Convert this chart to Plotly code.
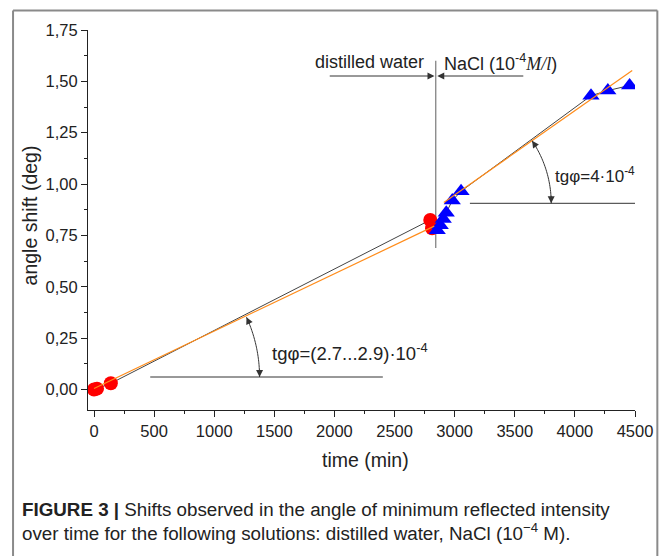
import numpy as np
import plotly.graph_objects as go

# ---- data ----
red_t = [0, 25, 140, 2797, 2812]
red_y = [0.0, 0.004, 0.03, 0.825, 0.785]
blue_t = [2855, 2880, 2905, 2930, 2980, 3053, 4134, 4274, 4455]
blue_y = [0.775, 0.80, 0.83, 0.86, 0.92, 0.965, 1.43, 1.455, 1.48]
fit1_t = [0, 2830]
fit1_y = [0.005, 0.795]
fit2_t = [2910, 4477]
fit2_y = [0.91, 1.553]
y_ticks = [0, 0.25, 0.5, 0.75, 1.0, 1.25, 1.5, 1.75]
y_ticktext = ["0,00", "0,25", "0,50", "0,75", "1,00", "1,25", "1,50", "1,75"]
x_ticks = [0, 500, 1000, 1500, 2000, 2500, 3000, 3500, 4000, 4500]

# ---- layout geometry ----
W, H = 665, 556
ML, MR, MT, MB = 88, 26, 30, 146
PW, PH = W - ML - MR, H - MT - MB
XR = [-50, 4500]
YR = [-0.1, 1.75]
sx = PW / (XR[1] - XR[0])
sy = PH / (YR[1] - YR[0])

def px2d(px, py):
    return XR[0] + (px - ML) / sx, YR[0] + (MT + PH - py) / sy

def pxpaper(px, py):
    return (px - ML) / PW, (MT + PH - py) / PH

ink = "#222222"
fnt = "Liberation Sans, Arial, sans-serif"

fig = go.Figure()
fig.add_trace(go.Scatter(x=red_t, y=red_y, mode="lines+markers",
                         line=dict(color="#444444", width=1),
                         marker=dict(symbol="circle", size=14, color="#ff0000"),
                         showlegend=False))
fig.add_trace(go.Scatter(x=blue_t, y=blue_y, mode="lines+markers",
                         line=dict(color="#444444", width=1),
                         marker=dict(symbol="triangle-up", size=15, color="#0000ff"),
                         showlegend=False))
fig.add_trace(go.Scatter(x=fit1_t, y=fit1_y, mode="lines",
                         line=dict(color="#ff8c1a", width=1.2), showlegend=False))
fig.add_trace(go.Scatter(x=fit2_t, y=fit2_y, mode="lines",
                         line=dict(color="#ff8c1a", width=1.2), showlegend=False))

shapes = []
annotations = []

# vertical separator
vx, _ = px2d(438.3, 0)
_, vy0 = px2d(0, 248)
_, vy1 = px2d(0, 60.7)
shapes.append(dict(type="line", xref="x", yref="y", x0=vx, x1=vx, y0=vy0, y1=vy1,
                   line=dict(color="#7a7a7a", width=1.2), layer="below"))

# dimension arrows at top
_, ay_top = px2d(0, 76)
xl, _ = px2d(330, 0)
xr, _ = px2d(528, 0)
tipL, _ = px2d(437, 0)
tipR, _ = px2d(439.8, 0)
for tip, tail in [(tipL, xl), (tipR, xr)]:
    annotations.append(dict(x=tip, y=ay_top, ax=tail, ay=ay_top, xref="x", yref="y",
                            axref="x", ayref="y", text="", showarrow=True,
                            arrowhead=2, arrowsize=1.4, arrowwidth=1,
                            arrowcolor="#333333", standoff=0, startstandoff=0))

# horizontal reference lines
def hline(px0, px1, py):
    x0, y0 = px2d(px0, py)
    x1, _ = px2d(px1, py)
    shapes.append(dict(type="line", xref="x", yref="y", x0=x0, x1=x1, y0=y0, y1=y0,
                       line=dict(color="#333333", width=1)))

hline(150.7, 385, 377)
hline(472.7, 641.7, 203.3)

# angle arcs
def arc(cx, cy, r, a1):
    th = np.linspace(0, a1, 40)
    pts = [px2d(cx + r * np.cos(t), cy - r * np.sin(t)) for t in th]
    path = "M " + " L ".join(f"{x:.3f},{y:.5f}" for x, y in pts)
    shapes.append(dict(type="path", xref="x", yref="y", path=path,
                       line=dict(color="#333333", width=1)))
    bx, by = px2d(cx + r, cy)
    annotations.append(dict(x=bx, y=by, ax=0, ay=-9, xref="x", yref="y", text="",
                            showarrow=True, arrowhead=2, arrowsize=1.4, arrowwidth=1,
                            arrowcolor="#333333", standoff=0))
    ex, ey = px2d(cx + r * np.cos(a1), cy - r * np.sin(a1))
    annotations.append(dict(x=ex, y=ey, ax=9 * np.sin(a1), ay=9 * np.cos(a1),
                            xref="x", yref="y", text="", showarrow=True, arrowhead=2,
                            arrowsize=1.4, arrowwidth=1, arrowcolor="#333333", standoff=0))

arc(118.3, 377, 142.5, np.radians(24.8))
arc(443.6, 203.3, 111, np.radians(34.3))

# texts in the plot
def txt(px, py, s, anchor="left", size=15):
    x, y = px2d(px, py)
    annotations.append(dict(x=x, y=y, xref="x", yref="y", text=s, showarrow=False,
                            xanchor=anchor, yanchor="middle",
                            font=dict(family=fnt, size=size, color=ink)))

txt(428, 62, "distilled water", "right", 18)
txt(445, 62, "NaCl (10<sup>-4</sup><span style='font-family:Liberation Serif, serif'><i>M/l</i></span>)", "left", 18)
txt(271, 352, "tgφ=(2.7...2.9)·10<sup>-4</sup>", "left", 18.5)
txt(556, 175, "tgφ=4·10<sup>-4</sup>", "left", 17)

# axis titles
px_, py_ = pxpaper(30, 215)
annotations.append(dict(x=px_, y=py_, xref="paper", yref="paper", text="angle shift (deg)",
                        textangle=-90, showarrow=False, xanchor="center", yanchor="middle",
                        font=dict(family=fnt, size=19.5, color=ink)))
px_, py_ = pxpaper(368, 460)
annotations.append(dict(x=px_, y=py_, xref="paper", yref="paper", text="time (min)",
                        showarrow=False, xanchor="center", yanchor="middle",
                        font=dict(family=fnt, size=19.5, color=ink)))

# caption
px_, py_ = pxpaper(20, 509)
annotations.append(dict(x=px_, y=py_, xref="paper", yref="paper",
                        text="<b>FIGURE 3 |</b> Shifts observed in the angle of minimum reflected intensity",
                        showarrow=False, xanchor="left", yanchor="middle",
                        font=dict(family=fnt, size=18.8, color=ink)))
px_, py_ = pxpaper(20, 532)
annotations.append(dict(x=px_, y=py_, xref="paper", yref="paper",
                        text="over time for the following solutions: distilled water, NaCl (10<sup>−4</sup> M).",
                        showarrow=False, xanchor="left", yanchor="middle",
                        font=dict(family=fnt, size=18.8, color=ink)))

# outer frame (top, left, right)
fl, ft = pxpaper(12.5, 10.5)
fr, fb = pxpaper(661.5, 556)
for x0, y0, x1, y1 in [(fl, ft, fr, ft), (fl, ft, fl, fb), (fr, ft, fr, fb)]:
    shapes.append(dict(type="line", xref="paper", yref="paper", x0=x0, y0=y0, x1=x1, y1=y1,
                       line=dict(color="#8a8a8a", width=2)))

fig.update_layout(
    width=W, height=H,
    margin=dict(l=ML, r=MR, t=MT, b=MB, pad=0),
    paper_bgcolor="white", plot_bgcolor="white",
    shapes=shapes, annotations=annotations,
    font=dict(family=fnt, size=16, color=ink),
    xaxis=dict(range=XR, tickvals=x_ticks, ticks="outside", ticklen=6, tickwidth=1,
               tickcolor="#222", showline=True, linecolor="#222", linewidth=1,
               showgrid=False, zeroline=False, tickfont=dict(size=16.5, color=ink),
               minor=dict(dtick=250, tick0=0, ticks="outside", ticklen=3, tickcolor="#222",
                          showgrid=False)),
    yaxis=dict(range=YR, tickvals=y_ticks, ticktext=y_ticktext, ticks="outside", ticklen=6,
               tickwidth=1, tickcolor="#222", showline=True, linecolor="#222", linewidth=1,
               showgrid=False, zeroline=False, tickfont=dict(size=16.5, color=ink),
               minor=dict(dtick=0.125, tick0=0, ticks="outside", ticklen=3, tickcolor="#222",
                          showgrid=False)),
)

fig.write_html("out.html")
